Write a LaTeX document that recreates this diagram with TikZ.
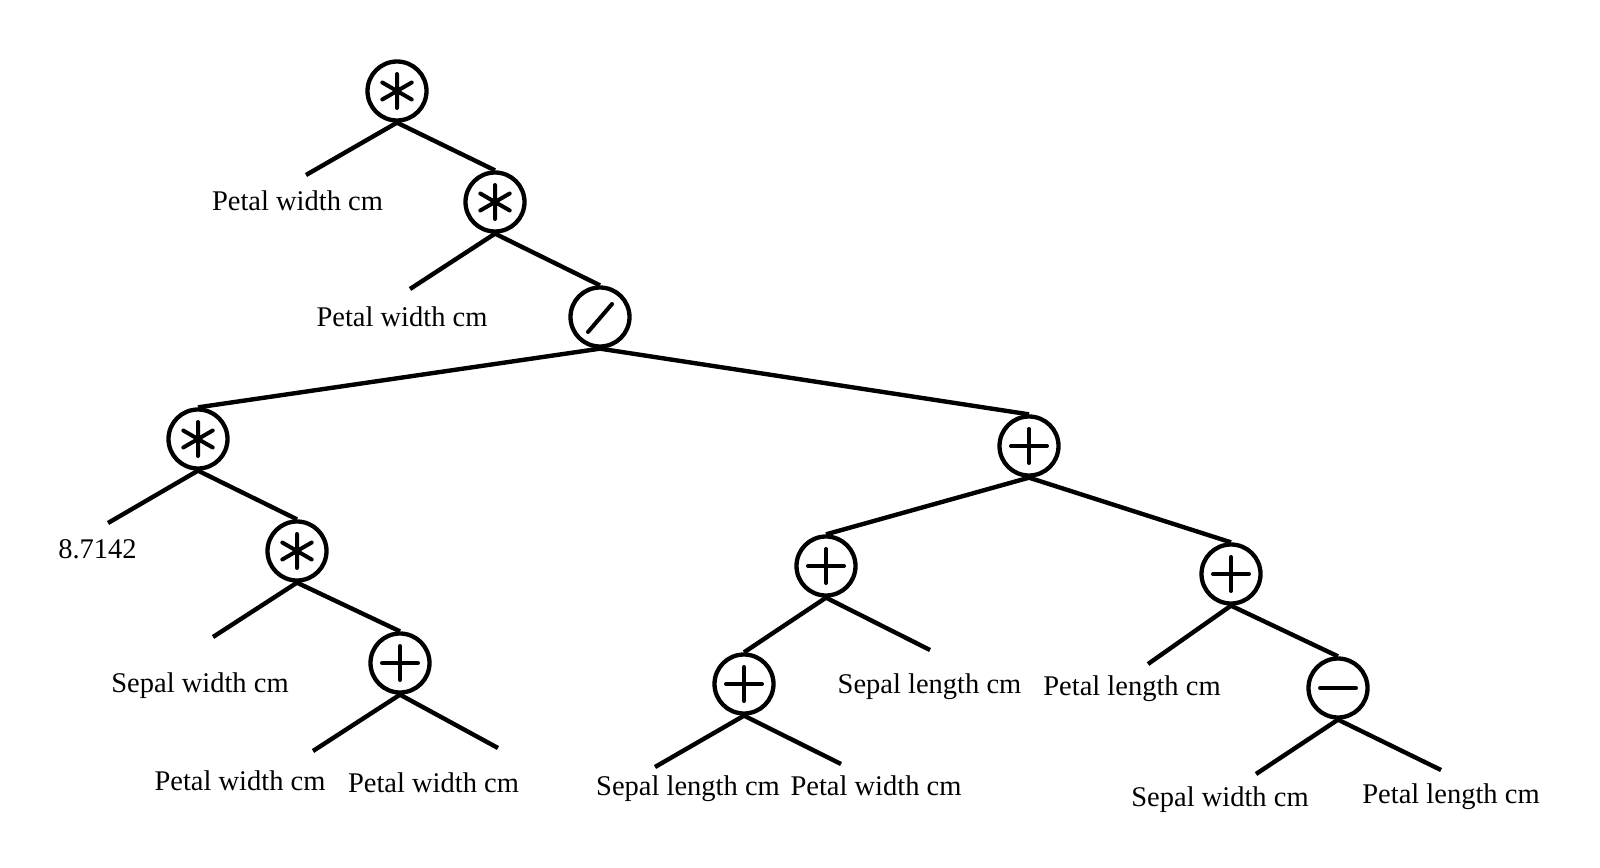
\documentclass[tikz,border=0pt]{standalone}
\usepackage{fontspec}
\setmainfont{Liberation Serif}
\begin{document}
\begin{tikzpicture}[x=1pt,y=-1pt,
  opnode/.style={circle,draw,line width=4.3pt,minimum size=59pt,inner sep=0pt},
  edge/.style={line width=4.4pt},
  symline/.style={line width=4pt,line cap=round},
  lbl/.style={anchor=base,inner sep=0pt,font=\fontsize{28.5}{34}\selectfont}]
\useasboundingbox (0,0) rectangle (1600,867);
\fill[white] (0,0) rectangle (1600,867);
% operator nodes
\node[opnode] (root) at (397,91) {};
\node[opnode] (n2) at (495,202) {};
\node[opnode] (dv) at (600,317) {};
\node[opnode] (a) at (198,439) {};
\node[opnode] (b) at (1029,446) {};
\node[opnode] (c) at (297,551) {};
\node[opnode] (d) at (400,663) {};
\node[opnode] (e) at (826,566) {};
\node[opnode] (f) at (1231,574) {};
\node[opnode] (g) at (744,684) {};
\node[opnode] (h) at (1338,688) {};
% symbols
\foreach \n in {root,n2,a,c}{
  \draw[symline,shift={(\n)}] (0,-17)--(0,17) (-14.7,-8.5)--(14.7,8.5) (-14.7,8.5)--(14.7,-8.5);
}
\foreach \n in {b,d,e,f,g}{
  \draw[symline,shift={(\n)}] (0,-17)--(0,17) (-18,0)--(18,0);
}
\draw[symline,shift={(h)}] (-18,0)--(18,0);
\draw[symline,shift={(dv)}] (-12,15)--(12,-13);
% leaf ends
\coordinate (l1) at (306,175);
\coordinate (l2) at (410,289);
\coordinate (l3) at (108,523);
\coordinate (l4) at (213,637);
\coordinate (l5) at (313,751);
\coordinate (l6) at (498,748);
\coordinate (l7) at (930,650);
\coordinate (l8) at (655,767);
\coordinate (l9) at (841,764);
\coordinate (l10) at (1148,664);
\coordinate (l11) at (1256,774);
\coordinate (l12) at (1441,770);
% edges
\draw[edge] (root.south) -- (l1);
\draw[edge] (root.south) -- (n2.north);
\draw[edge] (n2.south) -- (l2);
\draw[edge] (n2.south) -- (dv.north);
\draw[edge] (dv.south) -- (a.north);
\draw[edge] (dv.south) -- (b.north);
\draw[edge] (a.south) -- (l3);
\draw[edge] (a.south) -- (c.north);
\draw[edge] (c.south) -- (l4);
\draw[edge] (c.south) -- (d.north);
\draw[edge] (d.south) -- (l5);
\draw[edge] (d.south) -- (l6);
\draw[edge] (b.south) -- (e.north);
\draw[edge] (b.south) -- (f.north);
\draw[edge] (e.south) -- (g.north);
\draw[edge] (e.south) -- (l7);
\draw[edge] (g.south) -- (l8);
\draw[edge] (g.south) -- (l9);
\draw[edge] (f.south) -- (l10);
\draw[edge] (f.south) -- (h.north);
\draw[edge] (h.south) -- (l11);
\draw[edge] (h.south) -- (l12);
% labels
\node[lbl] (t1) at (297.5,210) {Petal width cm};
\node[lbl] (t2) at (402,326) {Petal width cm};
\node[lbl] (t3) at (97.5,558) {8.7142};
\node[lbl] (t4) at (200,692) {Sepal width cm};
\node[lbl] (t5) at (240,790) {Petal width cm};
\node[lbl] (t6) at (433.5,792) {Petal width cm};
\node[lbl] (t7) at (929.5,693) {Sepal length cm};
\node[lbl] (t8) at (688,795) {Sepal length cm};
\node[lbl] (t9) at (876,795) {Petal width cm};
\node[lbl] (t10) at (1132,695) {Petal length cm};
\node[lbl] (t11) at (1220,806) {Sepal width cm};
\node[lbl] (t12) at (1451,803) {Petal length cm};
\end{tikzpicture}
\end{document}
